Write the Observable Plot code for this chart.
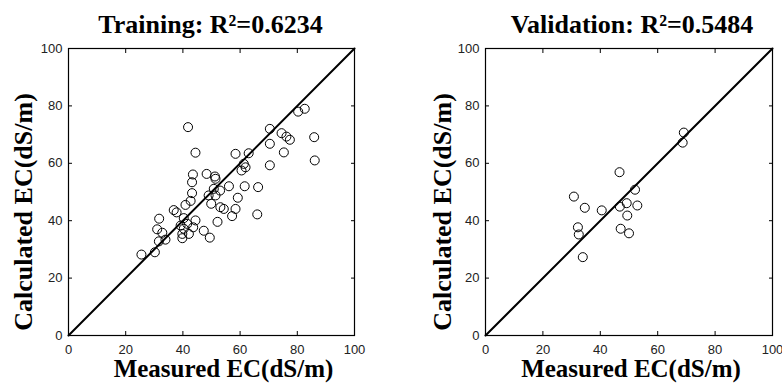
<!DOCTYPE html>
<html><head><meta charset="utf-8">
<script src="https://cdn.jsdelivr.net/npm/d3@7"></script>
<script src="https://cdn.jsdelivr.net/npm/@observablehq/plot@0.6"></script>
<style>
body{margin:0;background:#fff;}
#wrap{display:flex;width:782px;height:383px;}
</style></head><body><div id="wrap"></div>
<script>
const ticks = [0, 20, 40, 60, 80, 100];
const diag = [0, 100];
const trainMeasured = [
  25.5, 30.2, 31.6, 33.9, 32.8, 31.0, 31.7, 36.8, 37.8, 40.9,
  42.7, 43.2, 43.2, 43.5, 44.4, 41.8, 48.3, 51.2, 51.4, 50.8,
  53.0, 56.1, 61.6, 66.3, 49.0, 51.4, 59.2, 49.9, 53.1, 54.3,
  58.4, 57.2, 66.0, 52.1, 47.3, 49.4, 40.3, 44.4, 41.5, 39.2,
  40.3, 43.6, 39.8, 42.1, 39.8, 60.5, 61.9, 61.3, 58.4, 63.0,
  70.4, 70.4, 75.3, 86.1, 85.9, 77.4, 76.2, 74.5, 70.4, 80.3,
  82.6];
const trainCalculated = [
  28.2, 29.0, 32.8, 33.4, 35.8, 37.0, 40.7, 43.7, 42.9, 45.5,
  46.9, 49.6, 53.4, 56.1, 63.7, 72.6, 56.3, 55.4, 54.6, 51.1,
  50.5, 52.0, 52.0, 51.7, 48.8, 48.8, 48.0, 45.9, 44.7, 44.1,
  44.1, 41.6, 42.2, 39.6, 36.5, 34.1, 40.9, 40.1, 38.9, 38.3,
  37.2, 37.7, 35.4, 35.4, 33.9, 57.5, 58.6, 59.8, 63.3, 63.5,
  59.3, 66.8, 63.8, 61.0, 69.1, 68.2, 69.3, 70.5, 72.0, 78.0,
  79.0];
const valMeasured = [46.7, 30.8, 34.6, 40.5, 52.1, 49.2, 46.8, 52.9, 49.4, 32.2, 32.5, 47.1, 50.0, 33.9, 69.1, 68.7];
const valCalculated = [56.9, 48.4, 44.5, 43.6, 50.8, 46.1, 44.9, 45.3, 41.8, 37.7, 35.2, 37.2, 35.6, 27.3, 70.7, 67.2];
const titles = ["Training: R²=0.6234", "Validation: R²=0.5484"];
const xLabel = "Measured EC(dS/m)";
const yLabel = "Calculated EC(dS/m)";

const serif = "'Liberation Serif', 'Times New Roman', serif";

function panel(mx, my, title, cfg) {
  const pts = mx.map((m, i) => ({m, c: my[i]}));
  const lab = {fontFamily: serif, fontWeight: "bold", fontSize: 26, fill: "black", textAnchor: "middle", lineAnchor: "middle"};
  return Plot.plot({
    width: 391, height: 383,
    marginLeft: cfg.ml, marginRight: cfg.mr, marginTop: 48, marginBottom: 48,
    x: {domain: [0, 100]}, y: {domain: [0, 100]},
    style: {fontFamily: "'Liberation Sans', Arial, sans-serif", background: "white", overflow: "visible"},
    marks: [
      Plot.line(diag, {x: d => d, y: d => d, stroke: "black", strokeWidth: 2}),
      Plot.dot(pts, {x: "m", y: "c", r: 4.5, stroke: "black", strokeWidth: 1, fill: "none"}),
      Plot.frame({stroke: "black", strokeWidth: 1.2}),
      Plot.axisX({anchor: "bottom", ticks, tickSize: -4, tickFormat: () => "", label: null, color: "black"}),
      Plot.axisX({anchor: "top", ticks, tickSize: -4, tickFormat: () => "", label: null, color: "black"}),
      Plot.axisY({anchor: "left", ticks, tickSize: -4, tickFormat: () => "", label: null, color: "black"}),
      Plot.axisY({anchor: "right", ticks, tickSize: -4, tickFormat: () => "", label: null, color: "black"}),
      Plot.axisX({anchor: "bottom", ticks, tickSize: 0, tickPadding: 9, label: null, fontSize: 13, color: "#222"}),
      Plot.axisY({anchor: "left", ticks, tickSize: 0, tickPadding: 6, label: null, fontSize: 13, color: "#222"}),
      Plot.text([title], {frameAnchor: "top", dx: cfg.tdx, dy: -24, ...lab}),
      Plot.text([xLabel], {frameAnchor: "bottom", dx: cfg.xdx, dy: 33, ...lab, fontSize: 25}),
      Plot.text([yLabel], {frameAnchor: "left", rotate: -90, dx: cfg.ydx, dy: 20, ...lab})
    ]
  });
}

const wrap = document.getElementById("wrap");
wrap.append(panel(trainMeasured, trainCalculated, titles[0], {ml: 68, mr: 37, tdx: -1, xdx: 12, ydx: -45}));
wrap.append(panel(valMeasured, valCalculated, titles[1], {ml: 94, mr: 10, tdx: 3, xdx: 2, ydx: -43}));
</script>
</body></html>
